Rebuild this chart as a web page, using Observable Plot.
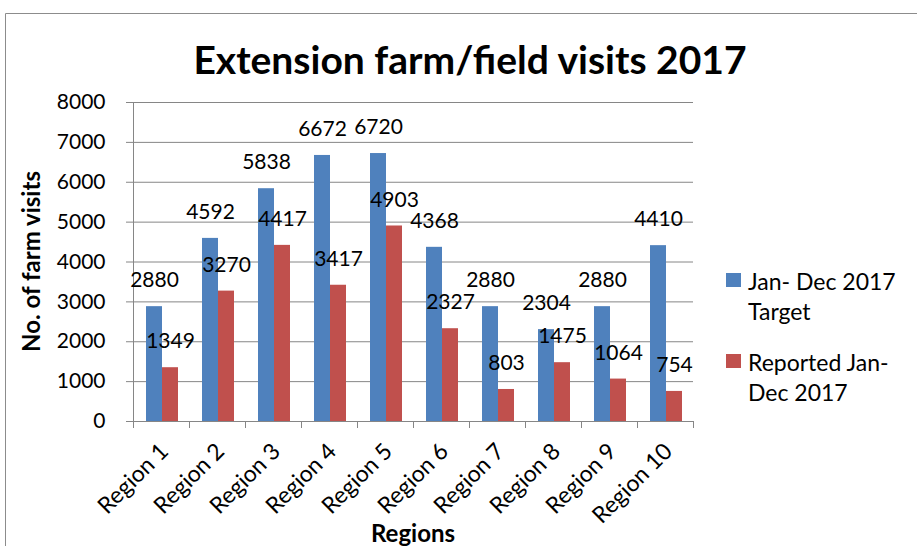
<!DOCTYPE html>
<html><head><meta charset="utf-8">
<script src="https://cdn.jsdelivr.net/npm/d3@7"></script>
<script src="https://cdn.jsdelivr.net/npm/@observablehq/plot@0.6"></script>
<style>
body{margin:0;background:#fff;}
#wrap{position:relative;width:917px;height:546px;overflow:hidden;font-family:Lato,sans-serif;background:#fff;}
#wrap svg{position:absolute;left:0;top:0;}
</style></head><body><div id="wrap"></div>
<script>
const regions = ["Region 1","Region 2","Region 3","Region 4","Region 5","Region 6","Region 7","Region 8","Region 9","Region 10"];
const target = [2880, 4592, 5838, 6672, 6720, 4368, 2880, 2304, 2880, 4410];
const reported = [1349, 3270, 4417, 3417, 4903, 2327, 803, 1475, 1064, 754];
const seriesNames = ["Jan- Dec 2017 Target", "Reported Jan- Dec 2017"];
const legendLines = [["Jan- Dec 2017", "Target"], ["Reported Jan-", "Dec 2017"]];
const colors = ["#4F81BD", "#C0504D"];
const yTicks = [0, 1000, 2000, 3000, 4000, 5000, 6000, 7000, 8000];
const titleText = "Extension farm/field visits 2017";
const yTitle = "No. of farm visits";
const xTitle = "Regions";

const targetRows = regions.map((r, i) => ({region: r, value: target[i], series: seriesNames[0]}));
const reportedRows = regions.map((r, i) => ({region: r, value: reported[i], series: seriesNames[1]}));

const gray = "#868686";
const W = 917, H = 546, mT = 102, mB = 125, mL = 133, mR = 224;

const chart = Plot.plot({
  width: W, height: H, marginTop: mT, marginBottom: mB, marginLeft: mL, marginRight: mR,
  style: {fontFamily: "Lato, sans-serif", fontSize: "21px", background: "transparent", overflow: "visible", color: "#000"},
  x: {domain: regions, padding: 0, label: null},
  y: {domain: [0, 8000], label: null},
  color: {domain: seriesNames, range: colors},
  marks: [
    Plot.gridY(yTicks, {stroke: gray, strokeOpacity: 1}),
    Plot.barY(targetRows, {x: "region", y: "value", fill: "series", insetLeft: 13, insetRight: 27}),
    Plot.barY(reportedRows, {x: "region", y: "value", fill: "series", insetLeft: 29, insetRight: 11}),
    Plot.ruleY([0], {stroke: gray}),
    Plot.frame({anchor: "left", stroke: gray}),
    Plot.axisY({ticks: yTicks, tickSize: 7, tickFormat: () => "", stroke: gray, label: null}),
    Plot.axisY({ticks: yTicks, tickSize: 0, tickPadding: 28, tickFormat: d => String(d), label: null, fontSize: 21}),
    Plot.axisX({ticks: regions, tickSize: 7, tickFormat: () => "", stroke: gray, dx: -28, label: null}),
    Plot.axisX({ticks: [regions[regions.length - 1]], tickSize: 7, tickFormat: () => "", stroke: gray, dx: 28, label: null}),
    Plot.axisX({tickSize: 0, tickRotate: -45, tickPadding: 26, dx: 3, label: null, fontSize: 23}),
    Plot.text(targetRows, {x: "region", y: "value", text: d => String(d.value), dx: -7, dy: -26, lineAnchor: "middle", fontSize: 21, fill: "#000"}),
    Plot.text(reportedRows, {x: "region", y: "value", text: d => String(d.value), dx: 9, dy: -26, lineAnchor: "middle", fontSize: 21, fill: "#000"})
  ]
});

const wrap = document.getElementById("wrap");
wrap.appendChild(chart);

// overlay: border, titles, legend
const svg = d3.select(wrap).append("svg").attr("width", W).attr("height", H)
  .style("font-family", "Lato, sans-serif").style("pointer-events", "none");
svg.append("path").attr("d", `M5.5,${H}V13.5H${W}`).attr("fill", "none").attr("stroke", "#8c8c8c").attr("stroke-width", 1);
svg.append("text").attr("x", 470).attr("y", 74).attr("text-anchor", "middle")
  .attr("font-size", 39).attr("font-weight", "bold").text(titleText);
svg.append("text").attr("transform", `translate(40,${(mT + H - mB) / 2}) rotate(-90)`).attr("text-anchor", "middle")
  .attr("font-size", 24).attr("font-weight", "bold").text(yTitle);
svg.append("text").attr("x", (mL + W - mR) / 2).attr("y", 542).attr("text-anchor", "middle")
  .attr("font-size", 24).attr("font-weight", "bold").text(xTitle);

const legendTop = [273, 354];
legendLines.forEach((lines, i) => {
  const g = svg.append("g");
  g.append("rect").attr("x", 726).attr("y", legendTop[i]).attr("width", 15).attr("height", 14).attr("fill", colors[i]);
  lines.forEach((t, j) => {
    g.append("text").attr("x", 748).attr("y", legendTop[i] + 17 + j * 30).attr("font-size", 23).text(t);
  });
});
</script></body></html>
